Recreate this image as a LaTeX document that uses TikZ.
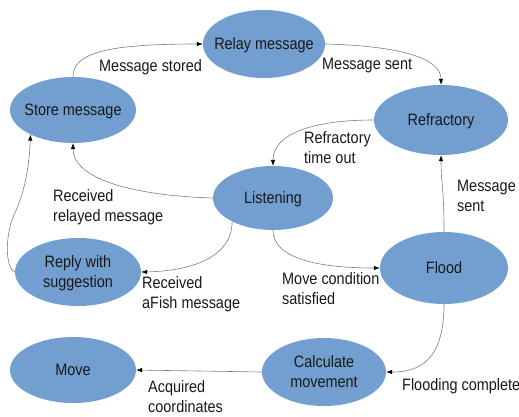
\documentclass[tikz,border=0pt]{standalone}
\usepackage{fontspec}
\setmainfont{Liberation Sans}[FakeStretch=0.875]
\usetikzlibrary{shapes.geometric,arrows.meta}

\definecolor{statefill}{RGB}{114,159,207}
\definecolor{wire}{RGB}{125,125,125}
\definecolor{ink}{RGB}{25,25,25}

% Text inside a state: the caps of the first line and the baseline
% of the last line are centred in the ellipse.
\newcommand\oneline[1]{\makebox[0pt]{\raisebox{0pt}[\fontcharht\font`H][0pt]{#1}}}
\newcommand\twolines[2]{\makebox[0pt]{\raisebox{0pt}[\dimexpr\fontcharht\font`H+20pt\relax][0pt]{\begin{tabular}[b]{@{}c@{}}#1\\#2\end{tabular}}}}
% Two left-aligned lines of a transition label, baseline on the first line
\newcommand\lbltwo[2]{\begin{tabular}[t]{@{}l@{}}#1\\#2\end{tabular}}

\tikzset{
  state/.style={ellipse, fill=statefill, draw=none, inner sep=0pt,
    text=ink, font=\fontsize{16.5}{20}\selectfont},
  lbl/.style={inner sep=0pt, anchor=base west, text=ink,
    font=\fontsize{16.5}{20}\selectfont},
  flow/.style={draw=wire, line width=0.6pt,
    -{Latex[length=6pt,width=4.5pt,color=black]}},
}

\begin{document}
\begin{tikzpicture}[x=1pt, y=-1pt]
\useasboundingbox (0,0) rectangle (519,416);

% states
\node[state, minimum width=122pt, minimum height=68pt] (relay)  at (264,44)  {\oneline{Relay message}};
\node[state, minimum width=126pt, minimum height=66pt] (store)  at (73,110)  {\oneline{Store message}};
\node[state, minimum width=134pt, minimum height=70pt] (refr)   at (441,120) {\oneline{Refractory}};
\node[state, minimum width=120pt, minimum height=64pt] (listen) at (273,198) {\oneline{Listening}};
\node[state, minimum width=126pt, minimum height=68pt] (reply)  at (78,272)  {\twolines{Reply with}{suggestion}};
\node[state, minimum width=128pt, minimum height=72pt] (flood)  at (444,268) {\oneline{Flood}};
\node[state, minimum width=126pt, minimum height=66pt] (move)   at (73,370)  {\oneline{Move}};
\node[state, minimum width=124pt, minimum height=68pt] (calc)   at (324,372) {\twolines{Calculate}{movement}};

% transitions
\draw[flow] (store.north) .. controls (73,52) and (110,44) .. (relay.west);
\draw[flow] (relay.east) .. controls (400,46) and (441,58) .. (refr.north);
\draw[flow] (refr.west) .. controls (310,120) and (273,135) .. (listen.north);
\draw[flow] (listen.west) .. controls (120,195) and (73,175) .. (store.south);
\draw[flow] (listen.210) .. controls (232,258) and (190,271) .. (reply.east);
\draw[flow] (reply.west) .. controls (5,268) and (5,235) .. (14,215)
                         .. controls (22,198) and (29,175) .. (store.210);
\draw[flow] (listen.south) .. controls (273,262) and (330,268) .. (flood.west);
\draw[flow] (flood.north) .. controls (444,185) and (441,185) .. (refr.south);
\draw[flow] (flood.south) .. controls (444,360) and (420,372) .. (calc.east);
\draw[flow] (calc.west) -- (move.east);

% transition labels
\node[lbl] (t-stored)  at (99,71)   {Message stored};
\node[lbl] (t-sent)    at (322,69)  {Message sent};
\node[lbl] (t-timeout) at (304,143) {\lbltwo{Refractory}{time out}};
\node[lbl] (t-relayed) at (53,201)  {\lbltwo{Received}{relayed message}};
\node[lbl] (t-afish)   at (142,288) {\lbltwo{Received}{aFish message}};
\node[lbl] (t-movec)   at (282,284) {\lbltwo{Move condition}{satisfied}};
\node[lbl] (t-fsent)   at (457,191) {\lbltwo{Message}{sent}};
\node[lbl] (t-flooded) at (402,390) {Flooding complete};
\node[lbl] (t-coords)  at (148,392) {\lbltwo{Acquired}{coordinates}};
\end{tikzpicture}
\end{document}
